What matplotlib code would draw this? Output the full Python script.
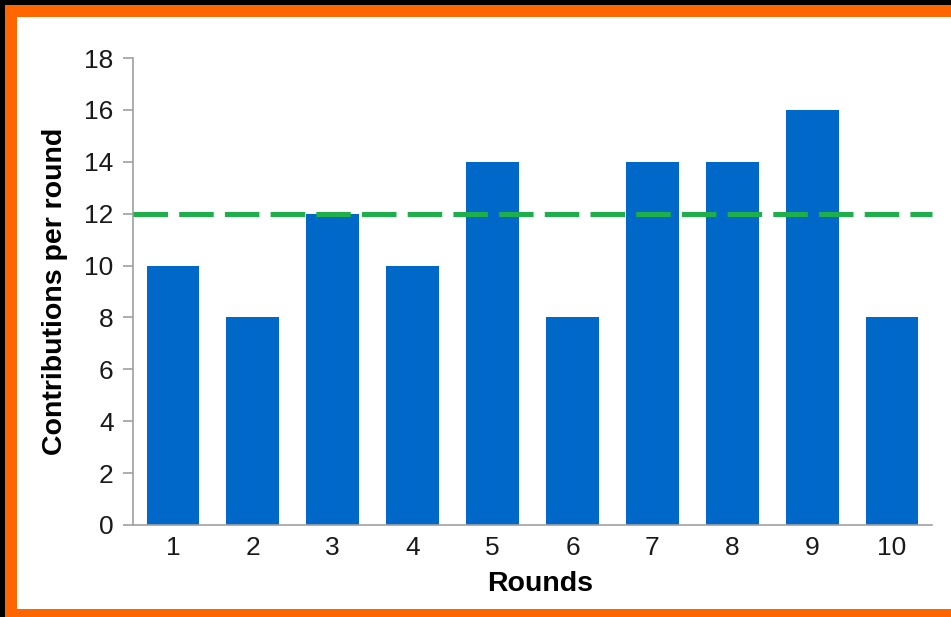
import matplotlib.pyplot as plt
from matplotlib.patches import Rectangle

rounds = [1, 2, 3, 4, 5, 6, 7, 8, 9, 10]
contributions = [10, 8, 12, 10, 14, 8, 14, 14, 16, 8]
average = 12
yticks = [0, 2, 4, 6, 8, 10, 12, 14, 16, 18]

W, H = 951, 617
fig = plt.figure(figsize=(W / 100, H / 100), dpi=100, facecolor='#ff6600')

# white card, black edges at top and left
fig.patches.append(Rectangle((17 / W, 8 / H), 1.0, (H - 25) / H,
                             transform=fig.transFigure, facecolor='white',
                             edgecolor='none', zorder=-2))
fig.patches.append(Rectangle((0, (H - 5) / H), 1, 5 / H,
                             transform=fig.transFigure, facecolor='black',
                             edgecolor='none', zorder=-1))
fig.patches.append(Rectangle((0, 0), 5 / W, 1,
                             transform=fig.transFigure, facecolor='black',
                             edgecolor='none', zorder=-1))

ax = fig.add_axes([133 / W, (H - 525) / H, 799 / W, 467 / H])
ax.set_facecolor('none')
ax.set_zorder(5)

ax.bar(rounds, contributions, width=0.66, color='#0068c8', zorder=2)
ax.axhline(average, color='#1db04a', lw=3.6, dashes=(6.9, 2.24),
           dash_capstyle='butt', zorder=3, clip_on=False)

ax.set_xlim(0.5, 10.5)
ax.set_ylim(0, 18)
ax.set_xticks(rounds)
ax.set_yticks(yticks)

for s in ['top', 'right']:
    ax.spines[s].set_visible(False)
for s in ['left', 'bottom']:
    ax.spines[s].set_color('#a0a0a0')
    ax.spines[s].set_linewidth(1.2)

ax.tick_params(axis='x', length=0, pad=8, labelsize=19, labelcolor='#1a1a1a')
ax.tick_params(axis='y', length=7, width=1.2, color='#a0a0a0', pad=7,
               labelsize=19, labelcolor='#1a1a1a')
for lbl in ax.get_xticklabels() + ax.get_yticklabels():
    lbl.set_fontfamily('Liberation Sans')

ax.set_xlabel('Rounds', fontsize=20.5, fontweight='bold',
              fontfamily='Liberation Sans', labelpad=6)
ax.xaxis.set_label_coords(0.509, -0.098)
ax.set_ylabel('Contributions per round', fontsize=20.5, fontweight='bold',
              fontfamily='Liberation Sans', labelpad=12)

plt.savefig('out.png', dpi=100, facecolor=fig.get_facecolor())
